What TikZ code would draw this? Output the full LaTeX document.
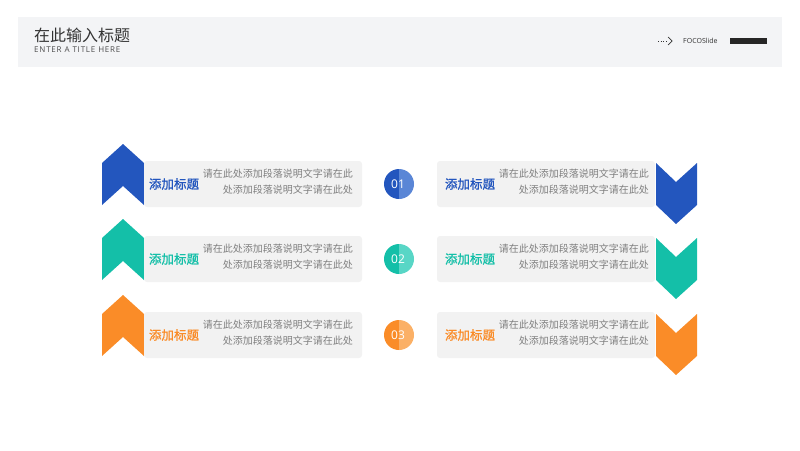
\documentclass[tikz,border=0pt]{standalone}
\usepackage{fontspec}
\setmainfont{Noto Sans CJK SC}
\newfontfamily\latin{Open Sans}
\definecolor{cb}{HTML}{2356BE}\definecolor{cbl}{HTML}{5A86D6}
\definecolor{ct}{HTML}{14BFA8}\definecolor{ctl}{HTML}{58D6C6}
\definecolor{co}{HTML}{FA8C28}\definecolor{col}{HTML}{FBB066}
\definecolor{hdr}{HTML}{F3F4F6}\definecolor{boxc}{HTML}{F2F2F2}
\definecolor{txt}{HTML}{7F7F7F}
\tikzset{boxs/.style={fill=boxc,rounded corners=3pt,draw=none},
body/.style={text=txt,font=\fontsize{10}{16}\selectfont,align=right,anchor=east,inner sep=0},
ttl/.style={font=\fontsize{12.5}{14}\selectfont\addfontfeature{FakeBold=1.2},inner sep=0}}
\begin{document}
\begin{tikzpicture}[x=1pt,y=-1pt]
\useasboundingbox (0,0) rectangle (800,450);
\fill[hdr] (18,17) rectangle (782,67);
\node[anchor=west,inner sep=0,font=\fontsize{16}{17}\selectfont,text=black!80] (t) at (34,35) {在此输入标题};
\node[anchor=west,inner sep=0,font=\latin\fontsize{8}{9}\selectfont\addfontfeature{LetterSpace=10},text=black!70] (st) at (34,50) {ENTER A TITLE HERE};
\node[anchor=west,inner sep=0,font=\latin\fontsize{7}{8}\selectfont,text=black!80] (fs) at (683,41) {FOCOSlide};
\draw[black!80,dotted,line width=0.7] (658,41) -- (668,41);
\draw[black!80,line width=0.7] (668,37) -- (672,41) -- (668,45);
\fill[black!85] (730,37.5) rectangle (767,44);
\foreach \c/\cl/\d/\n in {cb/cbl/0/01,ct/ctl/75/02,co/col/151/03}{
 \begin{scope}[yshift=-\d]
 \fill[\c] (102,163) -- (123,144) -- (144,163) -- (144,205) -- (123,186) -- (102,205) -- cycle;
 \fill[boxs] (144,161) rectangle (362,207);
 \node[ttl,text=\c] (l\n) at (174,184) {添加标题};
 \node[body] (lb\n) at (353,182) {请在此处添加段落说明文字请在此\\处添加段落说明文字请在此处};
 \begin{scope}\clip (380,160) rectangle (399,210); \fill[\c] (399,184) circle (15); \end{scope}
 \begin{scope}\clip (399,160) rectangle (420,210); \fill[\cl] (399,184) circle (15); \end{scope}
 \node[text=white,font=\latin\fontsize{12}{13}\selectfont] (c\n) at (398,184) {\n};
 \fill[boxs] (437,161) rectangle (655,207);
 \node[ttl,text=\c] (r\n) at (470,184) {添加标题};
 \node[body] (rb\n) at (649,182) {请在此处添加段落说明文字请在此\\处添加段落说明文字请在此处};
 \fill[\c] (656,163) -- (676,182) -- (697,163) -- (697,205) -- (676,224) -- (656,205) -- cycle;
 \end{scope}}
\end{tikzpicture}
\end{document}
